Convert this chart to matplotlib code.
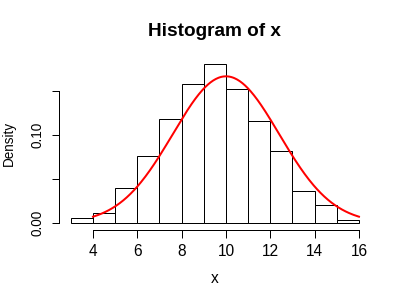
import numpy as np
import matplotlib
matplotlib.use("Agg")
import matplotlib.pyplot as plt

# Data
bin_edges = [3, 4, 5, 6, 7, 8, 9, 10, 11, 12, 13, 14, 15, 16]
densities = [0.006, 0.012, 0.040, 0.076, 0.118, 0.158, 0.180, 0.152, 0.116, 0.082, 0.036, 0.020, 0.004]
curve_mean = 10.0
curve_sd = 2.4
x_ticks = [4, 6, 8, 10, 12, 14, 16]
y_ticks = [0.00, 0.05, 0.10, 0.15]
y_tick_labels = ["0.00", "", "0.10", ""]

plt.rcParams['font.family'] = ['Liberation Sans', 'DejaVu Sans']
DPI = 72
W, H = 401, 303
fig = plt.figure(figsize=(W / DPI, H / DPI), dpi=DPI)
left, right, top, bottom = 59.3, 370.5, 57.8, 229.5
ax = fig.add_axes([left / W, 1 - bottom / H, (right - left) / W, (bottom - top) / H])

edges = np.array(bin_edges, dtype=float)
widths = np.diff(edges)
ax.bar(edges[:-1], densities, width=widths, align='edge', facecolor='white',
       edgecolor='black', linewidth=1.0)

xs = np.linspace(4, 16, 300)
ys = np.exp(-0.5 * ((xs - curve_mean) / curve_sd) ** 2) / (curve_sd * np.sqrt(2 * np.pi))
ax.plot(xs, ys, color='red', linewidth=2)

xmin, xmax = edges[0], edges[-1]
dx = (xmax - xmin) * 0.04
ax.set_xlim(xmin - dx, xmax + dx)
ymax = max(densities)
ax.set_ylim(-ymax * 0.04, ymax * 1.04)

for s in ['top', 'right']:
    ax.spines[s].set_visible(False)
ax.spines['bottom'].set_bounds(x_ticks[0], x_ticks[-1])
ax.spines['left'].set_bounds(y_ticks[0], y_ticks[-1])
for s in ['bottom', 'left']:
    ax.spines[s].set_linewidth(1.0)

ax.set_xticks(x_ticks)
ax.set_xticklabels([str(t) for t in x_ticks])
ax.set_yticks(y_ticks)
ax.set_yticklabels(y_tick_labels, rotation=90, va='center')
ax.tick_params(axis='both', direction='out', length=7.5, width=1.0)
ax.tick_params(axis='x', pad=6.5, labelsize=15.5)
ax.tick_params(axis='y', pad=7, labelsize=13.5)

fig.text(214.6 / W, 1 - 35.7 / H, "Histogram of x", ha='center', va='baseline',
         fontsize=19, fontweight='bold')
fig.text(214.6 / W, 1 - 282.7 / H, "x", ha='center', va='baseline', fontsize=15.5)
fig.text(9.2 / W, 1 - 143.7 / H, "Density", ha='center', va='center', fontsize=13.5,
         rotation=90)

fig.savefig("out.png", dpi=DPI)
